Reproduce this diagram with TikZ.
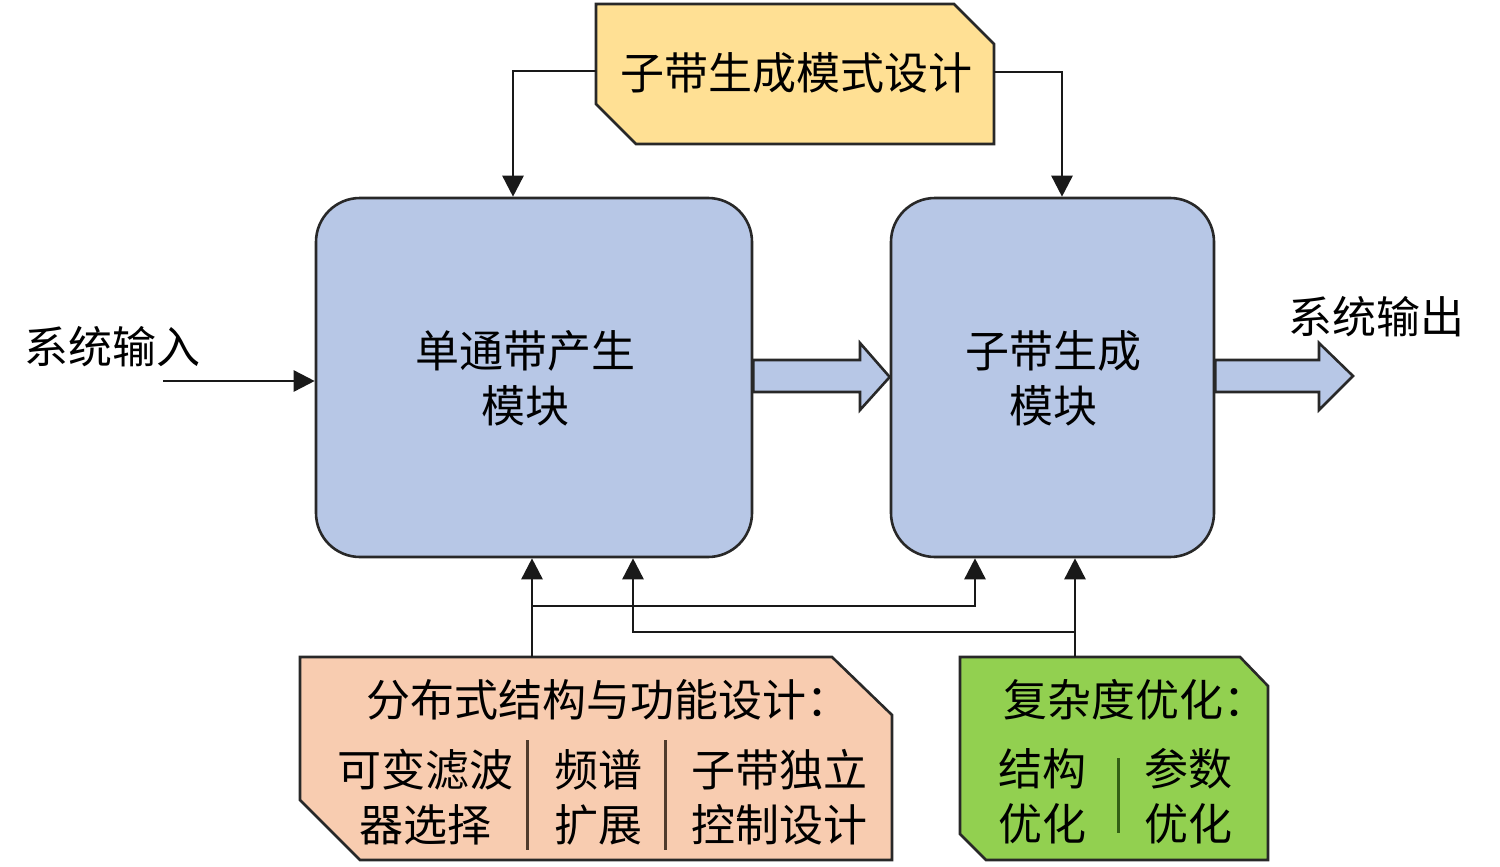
\documentclass[tikz,border=0pt]{standalone}
\usepackage{fontspec}
\newfontfamily\cjk{Noto Sans CJK SC}
\usetikzlibrary{arrows.meta,calc}
\definecolor{boxblue}{RGB}{183,199,230}
\definecolor{boxyellow}{RGB}{255,224,148}
\definecolor{boxpink}{RGB}{248,204,176}
\definecolor{boxgreen}{RGB}{146,208,80}
\definecolor{edge}{RGB}{40,40,40}
\definecolor{sepbrown}{RGB}{80,60,45}
\definecolor{sepgreen}{RGB}{50,95,20}
\begin{document}
\begin{tikzpicture}[x=1pt,y=-1pt,
  txt/.style={font=\cjk\fontsize{44}{55}\selectfont, text=black, align=center, inner sep=0pt},
  blk/.style={draw=edge, line width=2.6pt, fill=boxblue, rounded corners=44pt, inner sep=0pt},
  holder/.style={inner sep=0pt, outer sep=0pt, draw=none},
  cutbox/.style={draw=edge, line width=2.6pt, line join=miter},
  conn/.style={draw=black!90, line width=2.6pt, -{Triangle[length=21pt,width=21pt]}},
  fat/.style={draw=edge, line width=2.6pt, fill=boxblue, line join=miter},
  sepline/.style={line width=3pt}]
\useasboundingbox (0,0) rectangle (1500,867);

% top yellow box
\node[holder, minimum width=398pt, minimum height=140pt] (Y) at (795,74) {};
\draw[cutbox, fill=boxyellow] (Y.north west) -- ([xshift=-40pt]Y.north east) -- ([yshift=-40pt]Y.north east)
  -- (Y.south east) -- ([xshift=40pt]Y.south west) -- ([yshift=40pt]Y.south west) -- cycle;
\node[txt] (Yt) at (796,73) {子带生成模式设计};

% blue blocks
\node[blk, minimum width=436pt, minimum height=359pt] (L) at (534,377.5) {};
\node[txt] (Lt) at (525,378) {单通带产生\\模块};
\node[blk, minimum width=323pt, minimum height=359pt] (R) at (1052.5,377.5) {};
\node[txt] (Rt) at (1053,378) {子带生成\\模块};

% block arrows
\coordinate (m0) at (L.east |- 0,360);
\draw[fat] (m0) -- (860,360) -- (860,343) -- (R.west |- 0,377) -- (860,410) -- (860,392) -- (L.east |- 0,392) -- cycle;
\coordinate (o0) at (R.east |- 0,360);
\draw[fat] (o0) -- (1319,360) -- (1319,343) -- (1353,376) -- (1319,410) -- (1319,392) -- (R.east |- 0,392) -- cycle;

% input / output labels
\node[txt] (inL) at (112,347) {系统输入};
\node[txt] (outL) at (1376,317) {系统输出};
\coordinate (inS) at (163,381);
\draw[conn] (inS) -- (inS -| L.west);

% top connectors
\coordinate (yl) at (Y.west |- 0,71);
\draw[conn] (yl) -| ([xshift=-21pt]L.north);
\coordinate (yr) at (Y.east |- 0,72);
\draw[conn] (yr) -| ([xshift=9.5pt]R.north);

% pink box
\node[holder, minimum width=592pt, minimum height=203pt] (P) at (596,758.5) {};
\draw[cutbox, fill=boxpink] (P.north west) -- ([xshift=-60pt]P.north east) -- ([yshift=-58pt]P.north east)
  -- (P.south east) -- ([xshift=60pt]P.south west) -- ([yshift=60pt]P.south west) -- cycle;
\node[txt, anchor=west] (Ph) at (366,700) {分布式结构与功能设计：};
\node[txt] (Pc1) at (425,797) {可变滤波\\器选择};
\node[txt] (Pc2) at (598,797) {频谱\\扩展};
\node[txt] (Pc3) at (779,797) {子带独立\\控制设计};
\draw[sepline, sepbrown] (527,740) -- (527,850);
\draw[sepline, sepbrown] (665,740) -- (665,850);

% green box
\node[holder, minimum width=308pt, minimum height=203pt] (G) at (1114,758.5) {};
\draw[cutbox, fill=boxgreen] (G.north west) -- ([xshift=-28pt]G.north east) -- ([yshift=-29pt]G.north east)
  -- (G.south east) -- ([xshift=26pt]G.south west) -- ([yshift=26pt]G.south west) -- cycle;
\node[txt, anchor=west] (Gh) at (1003,700) {复杂度优化：};
\node[txt] (Gc1) at (1042,796) {结构\\优化};
\node[txt] (Gc2) at (1188,796) {参数\\优化};
\draw[sepline, sepgreen] (1118,758) -- (1118,833);

% bottom connectors
\coordinate (pA) at (532,0 |- P.north);
\draw[conn] (pA) -- (pA |- L.south);
\coordinate (pB) at (532,606);
\draw[conn] (pB) -| ([xshift=-77.5pt]R.south);
\coordinate (gA) at (1075,0 |- G.north);
\draw[conn] (gA) -- (gA |- R.south);
\coordinate (gB) at (1075,632);
\draw[conn] (gB) -| ([xshift=99pt]L.south);
\end{tikzpicture}
\end{document}
